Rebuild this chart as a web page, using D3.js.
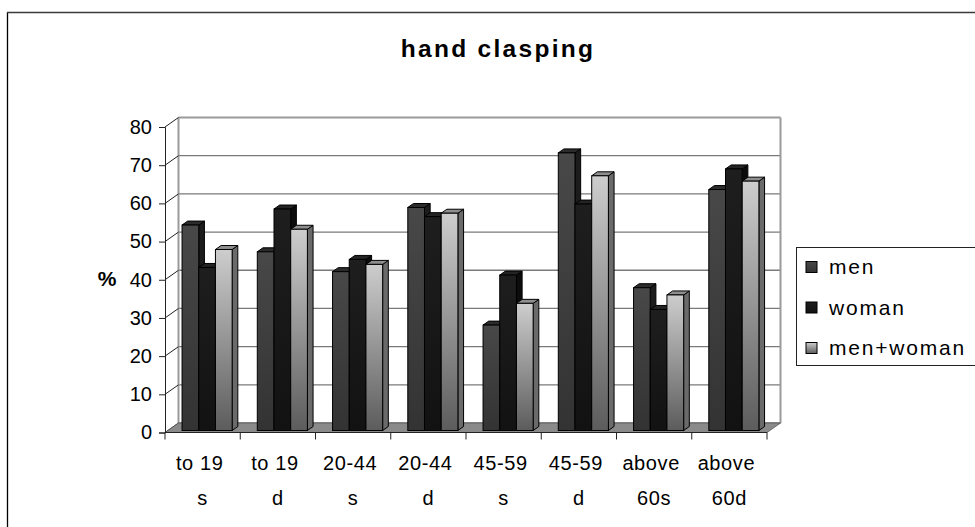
<!DOCTYPE html>
<html>
<head>
<meta charset="utf-8">
<script src="https://cdn.jsdelivr.net/npm/d3@7"></script>
<style>
  html, body { margin: 0; padding: 0; background: #fff; }
  svg { display: block; font-family: "Liberation Sans", Arial, sans-serif; }
</style>
</head>
<body>
<svg id="chart" width="975" height="527"></svg>
<script>
// Age groups (s / d) along the category axis, two text lines each
const categories = ["to 19|s", "to 19|d", "20-44|s", "20-44|d", "45-59|s", "45-59|d", "above|60s", "above|60d"];
const seriesNames = ["men", "woman", "men+woman"];
const men       = [53.8, 46.8, 41.6, 58.4, 27.6, 72.7, 37.4, 63.1];
const woman     = [42.7, 58.0, 44.8, 56.0, 40.7, 59.3, 31.7, 68.5];
const menWoman  = [47.4, 52.7, 43.5, 56.9, 33.3, 66.7, 35.5, 65.3];
const yTicks    = [0, 10, 20, 30, 40, 50, 60, 70, 80];
const title = "hand clasping";
const yTitle = "%";

const seriesValues = [men, woman, menWoman];

const svg = d3.select("#chart");
const defs = svg.append("defs");

// Oblique depth of the 3D box
const DX = 13.5, DY = -9.5;

const x = d3.scaleBand().domain(d3.range(categories.length)).range([165, 767]).padding(0);
const xs = d3.scaleBand().domain(seriesNames).range([0, x.bandwidth()]).paddingInner(0).paddingOuter(0.753).align(0.565);
const y = d3.scaleLinear().domain([0, 80]).range([432.5, 127]);

// project a front-plane point back by depth fraction d
const P = (px, py, d) => [px + DX * d, py + DY * d];
const poly = pts => pts.map(p => p.join(",")).join(" ");

// face styles per series
const faces = [
  { top: "#2c2c2c", side: "#1c1c1c", g: ["#484848", "#333333"] },
  { top: "#242424", side: "#0c0c0c", g: ["#1e1e1e", "#121212"] },
  { top: "#8e8e8e", side: "#6a6a6a", g: ["#cdcdcd", "#5c5c5c"] }
];
faces.forEach((f, i) => {
  const lg = defs.append("linearGradient").attr("id", "grad" + i)
    .attr("x1", 0).attr("y1", 0).attr("x2", 0).attr("y2", 1);
  lg.append("stop").attr("offset", "0%").attr("stop-color", f.g[0]);
  lg.append("stop").attr("offset", "100%").attr("stop-color", f.g[1]);
});

// outer chart frame
svg.append("line").attr("x1", 7.5).attr("y1", 12).attr("x2", 7.5).attr("y2", 527).attr("stroke", "#000").attr("stroke-width", 1.3);
svg.append("line").attr("x1", 7).attr("y1", 12.5).attr("x2", 975).attr("y2", 12.5).attr("stroke", "#3a3a3a").attr("stroke-width", 1.5);

// title
svg.append("text").attr("x", 498).attr("y", 57).attr("text-anchor", "middle")
  .attr("font-size", 24.5).attr("font-weight", "bold").attr("letter-spacing", 2.3)
  .text(title);

const x0 = x.range()[0], x1 = x.range()[1];

// back wall gridlines
const grid = svg.append("g");
yTicks.forEach(t => {
  const a = P(x0, y(t), 1), b = P(x1, y(t), 1);
  grid.append("line").attr("x1", a[0]).attr("y1", a[1]).attr("x2", b[0]).attr("y2", b[1])
    .attr("stroke", t === 80 ? "#9a9a9a" : "#7a7a7a").attr("stroke-width", t === 80 ? 2 : 1.3);
});
// back wall side edges
{
  const a = P(x0, y(80), 1), b = P(x0, y(0), 1);
  grid.append("line").attr("x1", a[0]).attr("y1", a[1]).attr("x2", b[0]).attr("y2", b[1]).attr("stroke", "#9a9a9a").attr("stroke-width", 2);
  const c = P(x1, y(80), 1), e = P(x1, y(0), 1);
  grid.append("line").attr("x1", c[0]).attr("y1", c[1]).attr("x2", e[0]).attr("y2", e[1]).attr("stroke", "#9a9a9a").attr("stroke-width", 2);
}
// side wall diagonals
yTicks.forEach(t => {
  const a = P(x0, y(t), 0), b = P(x0, y(t), 1);
  grid.append("line").attr("x1", a[0]).attr("y1", a[1]).attr("x2", b[0]).attr("y2", b[1]).attr("stroke", "#222").attr("stroke-width", 1);
});

// floor
svg.append("polygon")
  .attr("points", poly([P(x0, y(0), 0), P(x1, y(0), 0), P(x1, y(0), 1), P(x0, y(0), 1)]))
  .attr("fill", "#8a8a8a").attr("stroke", "#555").attr("stroke-width", 0.8);
svg.append("line").attr("x1", x0).attr("y1", y(0)).attr("x2", x1).attr("y2", y(0)).attr("stroke", "#222").attr("stroke-width", 1.2);

// value axis (front edge) with ticks and labels
const yAxis = d3.axisLeft(y).tickValues(yTicks).tickSize(6).tickPadding(7).tickFormat(d3.format("d"));
const yg = svg.append("g").attr("transform", `translate(${x0},0)`).call(yAxis);
yg.select(".domain").attr("stroke", "#222");
yg.selectAll(".tick line").attr("stroke", "#222");
yg.selectAll("text").attr("font-size", 20).attr("fill", "#000").attr("font-family", "Liberation Sans, Arial, sans-serif");

svg.append("text").attr("x", 107).attr("y", 286).attr("text-anchor", "middle")
  .attr("font-size", 21).attr("font-weight", "bold").text(yTitle);

// category axis ticks and two-line labels
const xg = svg.append("g");
d3.range(categories.length + 1).forEach(i => {
  const px = x0 + i * x.step();
  xg.append("line").attr("x1", px).attr("y1", y(0)).attr("x2", px).attr("y2", y(0) + 7).attr("stroke", "#222");
});
categories.forEach((c, i) => {
  const cx = x(i) + x.bandwidth() / 2;
  const parts = c.split("|");
  const t = xg.append("text").attr("text-anchor", "middle").attr("font-size", 20).attr("letter-spacing", 0.6);
  t.append("tspan").attr("x", cx - 3).attr("y", 470).text(parts[0]);
  t.append("tspan").attr("x", cx).attr("y", 505).text(parts[1]);
});

// bars: front face, right side face, top face; drawn left to right so neighbours overlap
const D0 = 0.21, D1 = 0.63;
const bars = svg.append("g");
categories.forEach((c, i) => {
  seriesNames.forEach((s, k) => {
    const v = seriesValues[k][i];
    const bx0 = x(i) + xs(s), bx1 = bx0 + xs.bandwidth();
    const f = faces[k];
    const g = bars.append("g");
    g.append("polygon").attr("points", poly([P(bx1, y(v), D0), P(bx1, y(v), D1), P(bx1, y(0), D1), P(bx1, y(0), D0)]))
      .attr("fill", f.side).attr("stroke", "#000").attr("stroke-width", 1).attr("stroke-linejoin", "round");
    g.append("polygon").attr("points", poly([P(bx0, y(v), D0), P(bx1, y(v), D0), P(bx1, y(v), D1), P(bx0, y(v), D1)]))
      .attr("fill", f.top).attr("stroke", "#000").attr("stroke-width", 1).attr("stroke-linejoin", "round");
    const a = P(bx0, y(v), D0);
    g.append("rect").attr("x", a[0]).attr("y", a[1]).attr("width", bx1 - bx0).attr("height", y(0) - y(v))
      .attr("fill", `url(#grad${k})`).attr("stroke", "#000").attr("stroke-width", 1);
  });
});

// legend
const lg = svg.append("g");
lg.append("rect").attr("x", 796.5).attr("y", 247.5).attr("width", 200).attr("height", 118)
  .attr("fill", "#fff").attr("stroke", "#222").attr("stroke-width", 1);
seriesNames.forEach((s, k) => {
  const cy = 267 + k * 40.5;
  lg.append("rect").attr("x", 806).attr("y", cy - 5.5).attr("width", 11).attr("height", 11)
    .attr("fill", `url(#grad${k})`).attr("stroke", "#000").attr("stroke-width", 1);
  lg.append("text").attr("x", 829).attr("y", cy + 7).attr("font-size", 21).attr("letter-spacing", 1.8).text(s);
});
</script>
</body>
</html>
